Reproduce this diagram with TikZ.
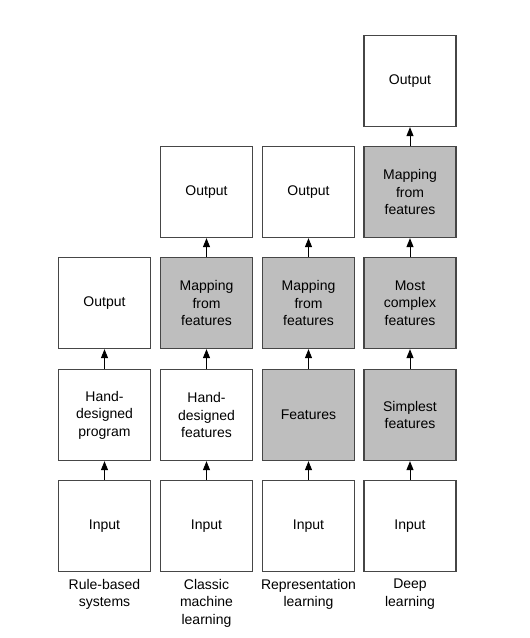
\documentclass[tikz,border=0pt]{standalone}
\usepackage{fontspec}
\setmainfont{Liberation Sans}
\usetikzlibrary{arrows.meta, positioning}
\definecolor{boxgray}{RGB}{190, 190, 190}
\definecolor{edgegray}{RGB}{70, 70, 70}

\begin{document}
\begin{tikzpicture}[x=1pt, y=-1pt,
  stage/.style={draw=edgegray, line width=1.3pt, fill=white, minimum width=92pt, minimum height=91pt,
    inner sep=2pt, align=center, font=\fontsize{14pt}{17.5pt}\selectfont},
  learned/.style={stage, fill=boxgray},
  caption/.style={anchor=north, align=center, inner sep=0pt, font=\fontsize{14pt}{17.5pt}\selectfont},
  up/.style={-{Triangle[width=7pt, length=9pt]}, line width=1pt, black}]
  \useasboundingbox (0,0) rectangle (530,638);

  % Rule-based systems
  \node[stage] (r-in) at (104.5, 526) {Input};
  \node[stage] (r-prog) at (104.5, 415) {Hand-\\designed\\program};
  \node[stage] (r-out) at (104.5, 303) {Output};
  \node[caption] (r-cap) at (104.5, 579) {Rule-based\\systems};

  % Classic machine learning
  \node[stage] (c-in) at (206.5, 526) {Input};
  \node[stage] (c-feat) at (206.5, 415) {Hand-\\designed\\features};
  \node[learned] (c-map) at (206.5, 303) {Mapping\\from\\features};
  \node[stage] (c-out) at (206.5, 192) {Output};
  \node[caption] (c-cap) at (206.5, 579) {Classic\\machine\\learning};

  % Representation learning
  \node[stage] (p-in) at (308.5, 526) {Input};
  \node[learned] (p-feat) at (308.5, 415) {Features};
  \node[learned] (p-map) at (308.5, 303) {Mapping\\from\\features};
  \node[stage] (p-out) at (308.5, 192) {Output};
  \node[caption] (p-cap) at (308.5, 579) {Representation\\learning};

  % Deep learning
  \node[stage] (d-in) at (410, 526) {Input};
  \node[learned] (d-simple) at (410, 415) {Simplest\\features};
  \node[learned] (d-complex) at (410, 303) {Most\\complex\\features};
  \node[learned] (d-map) at (410, 192) {Mapping\\from\\features};
  \node[stage] (d-out) at (410, 81) {Output};
  \node[caption] (d-cap) at (410, 579) {Deep\\learning};

  % arrows
  \draw[up] (r-in) -- (r-prog);
  \draw[up] (r-prog) -- (r-out);
  \draw[up] (c-in) -- (c-feat);
  \draw[up] (c-feat) -- (c-map);
  \draw[up] (c-map) -- (c-out);
  \draw[up] (p-in) -- (p-feat);
  \draw[up] (p-feat) -- (p-map);
  \draw[up] (p-map) -- (p-out);
  \draw[up] (d-in) -- (d-simple);
  \draw[up] (d-simple) -- (d-complex);
  \draw[up] (d-complex) -- (d-map);
  \draw[up] (d-map) -- (d-out);
\end{tikzpicture}
\end{document}
